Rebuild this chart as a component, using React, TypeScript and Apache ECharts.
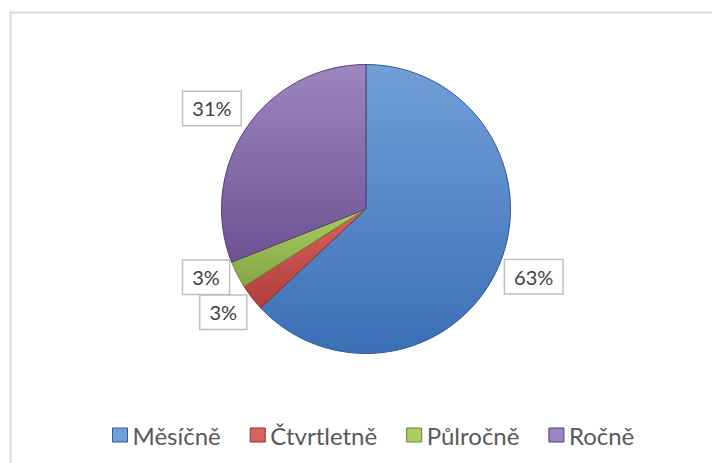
import React, { useEffect, useRef } from "react";
import * as echarts from "echarts";

const categories = ["Měsíčně", "Čtvrtletně", "Půlročně", "Ročně"];
const values = [63, 3, 3, 31];
const topColors = ["#729fd8", "#d9625e", "#aacd62", "#9c86c0"];
const bottomColors = ["#3b6fb6", "#b03e3b", "#84a644", "#6d5293"];
const edgeColors = ["#2f5a93", "#8c2f2d", "#6a8636", "#553f75"];
const labelDx = [-8, 8, 7, 8];
const labelDy = [8, -3, 0, -16];

export default function App() {
  const ref = useRef<HTMLDivElement>(null);
  useEffect(() => {
    if (!ref.current) return;
    const chart = echarts.init(ref.current, null, { renderer: "svg" });
    const data = categories.map((name, i) => ({
      name,
      value: values[i],
      itemStyle: {
        color: new echarts.graphic.LinearGradient(0, 0, 0, 1, [
          { offset: 0, color: topColors[i] },
          { offset: 1, color: bottomColors[i] },
        ]),
        borderColor: edgeColors[i],
        borderWidth: 1,
      },
    }));
    chart.setOption({
      animation: false,
      backgroundColor: "#ffffff",
      graphic: [
        {
          type: "rect",
          left: 8,
          top: 10,
          shape: { width: 720, height: 480 },
          style: { fill: "none", stroke: "#d9d9d9", lineWidth: 2 },
          silent: true,
        },
      ],
      legend: {
        top: 418,
        left: 107,
        itemWidth: 15,
        itemHeight: 14,
        itemGap: 29,
        icon: "rect",
        textStyle: {
          fontFamily: "Lato",
          fontSize: 24,
          color: "#595959",
        },
        data: categories.map((name, i) => ({
          name,
          itemStyle: { color: topColors[i], borderColor: edgeColors[i], borderWidth: 1 },
        })),
      },
      series: [
        {
          type: "pie",
          center: [366, 209],
          radius: 144.5,
          startAngle: 90,
          clockwise: true,
          avoidLabelOverlap: true,
          data,
          label: {
            show: true,
            position: "outside",
            formatter: (p: any) => Math.round(p.percent) + "%",
            fontFamily: "Lato",
            fontSize: 20,
            color: "#404040",
            backgroundColor: "#ffffff",
            borderColor: "#bfbfbf",
            borderWidth: 1.5,
            padding: [7, 9, 6, 9],
          },
          labelLine: { show: false, length: 6, length2: 4 },
          labelLayout: (p: any) => ({ dx: labelDx[p.dataIndex], dy: labelDy[p.dataIndex] }),
          emphasis: { disabled: true },
        },
      ],
    });
    return () => chart.dispose();
  }, []);
  return (
    <div
      ref={ref}
      style={{ position: "fixed", left: 0, top: 0, width: 712, height: 463 }}
    />
  );
}
